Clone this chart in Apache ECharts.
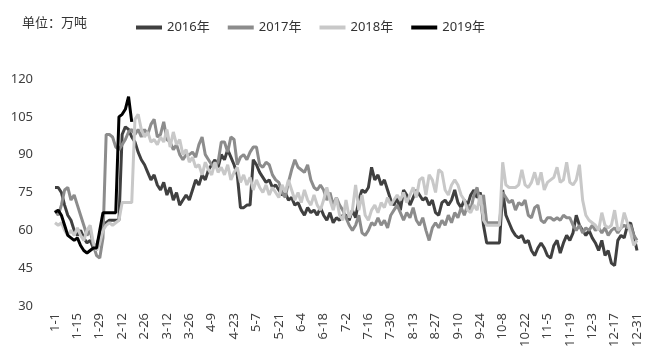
<!DOCTYPE html>
<html>
<head>
<meta charset="utf-8">
<script src="https://cdn.jsdelivr.net/npm/echarts@6/dist/echarts.min.js"></script>
<style>html,body{margin:0;padding:0;background:#fff;}#chart{width:651px;height:361px;}</style>
</head>
<body>
<div id="chart"></div>
<script>
// Category labels: every 2nd day of the year (M-D), ticks shown every 14 days
const monthDays = [31,28,31,30,31,30,31,31,30,31,30,31];
const categories = [];
(function(){ let m = 0, d = 1; for (let i = 0; i < 365; i++) { if (i % 2 === 0) categories.push((m+1) + '-' + d); d++; if (d > monthDays[m]) { d = 1; m++; } } })();

const seriesNames = ['2016年','2017年','2018年','2019年'];
const yTicks = [30,45,60,75,90,105,120];

const y2016 = [
  77,77,75,70,66,64,60,
  58,60,57,55,56,53,54,
  58,62,63,64,64,64,64,
  98,101,100,97,95,91,88,
  86,83,80,82,78,76,79,
  74,77,72,75,70,72,74,
  72,76,80,78,82,80,84,
  86,88,85,90,88,92,89,
  86,82,69,69,70,70,88,
  86,83,81,79,80,77,78,
  76,74,75,72,73,70,71,
  68,66,69,67,68,66,69,
  66,64,67,63,65,64,66,
  66,64,68,65,72,76,75,
  77,85,80,82,78,80,76,
  72,70,73,68,76,74,70,
  73,76,74,72,73,70,72,
  67,66,71,72,70,72,76,
  71,69,72,70,74,76,73,
  75,62,55,55,55,55,55,
  76,66,63,60,58,57,58,
  55,56,52,50,53,55,53,
  50,49,54,56,51,55,58,
  56,59,66,62,60,58,60,
  57,55,52,56,50,52,47,
  46,56,58,57,62,63,58,
  52
];
const y2017 = [
  68,66,70,76,77,72,74,
  70,66,62,58,60,54,50,
  49,57,98,98,97,93,92,
  94,96,99,100,98,100,97,
  100,98,102,104,97,98,103,
  96,95,92,94,90,88,90,
  90,91,89,94,97,90,88,
  86,85,87,95,95,91,97,
  96,86,89,90,88,91,93,
  93,86,85,87,86,82,80,
  79,75,73,79,84,88,85,
  84,83,86,80,77,76,78,
  76,72,75,70,73,70,68,
  65,62,60,62,66,59,58,
  60,63,62,65,62,64,61,
  66,68,70,67,64,67,65,
  69,64,62,65,60,56,61,
  63,61,64,62,66,63,67,
  65,69,66,70,68,74,77,
  70,74,63,63,63,63,63,
  75,73,71,72,68,71,70,
  72,66,65,69,70,64,63,
  65,65,64,65,64,66,65,
  65,62,60,62,59,61,60,
  62,60,61,59,61,58,60,
  61,59,61,62,61,62,58,
  56
];
const y2018 = [
  63,62,63,60,58,60,58,
  61,58,56,60,62,55,52,
  55,60,62,63,62,63,64,
  71,71,71,71,104,106,100,
  97,99,95,96,94,97,95,
  100,93,99,94,96,90,92,
  87,89,85,86,82,87,84,
  82,87,83,85,82,86,80,
  83,85,79,82,78,81,76,
  80,77,75,78,74,77,75,
  73,78,75,80,76,72,75,
  71,76,72,70,74,70,68,
  72,77,72,68,73,66,64,
  72,65,68,78,68,74,66,
  64,68,70,67,71,69,73,
  70,72,74,72,75,71,74,
  77,73,80,81,74,82,80,
  75,84,83,76,74,78,80,
  78,74,72,68,67,70,68,
  74,64,62,62,62,62,62,
  87,78,77,77,77,78,84,
  78,77,79,83,78,83,76,
  79,80,81,85,79,80,87,
  79,78,80,86,72,66,64,
  63,62,60,67,62,61,62,
  68,60,61,67,63,59,54,
  56
];
const y2019 = [
  67,68,66,62,58,57,56,
  57,54,52,51,52,53,53,
  60,67,67,67,67,67,105,
  106,108,113,103
];

const colors = ['#404040','#8c8c8c','#c8c8c8','#000000'];
const fontFam = '"Noto Sans","Noto Sans CJK SC",sans-serif';
const chart = echarts.init(document.getElementById('chart'), null, {renderer:'canvas'});
const dataList = [y2016, y2017, y2018, y2019];

chart.setOption({
  animation: false,
  backgroundColor: '#ffffff',
  title: {
    text: '单位：万吨', left: 17, top: 12,
    textStyle: { fontSize: 13, fontWeight: 'normal', color: '#333333', fontFamily: fontFam }
  },
  legend: {
    data: seriesNames, left: 131, top: 16, icon: 'rect',
    itemWidth: 26, itemHeight: 4, itemGap: 18,
    textStyle: { fontSize: 13, color: '#333333', fontFamily: fontFam }
  },
  grid: { left: 55, right: 14, top: 79, bottom: 55, containLabel: false },
  xAxis: {
    type: 'category', data: categories, boundaryGap: false,
    axisLine: { show: false }, axisTick: { show: false }, splitLine: { show: false },
    axisLabel: { interval: 6, rotate: 90, margin: 7, color: '#404040', fontSize: 13, fontFamily: fontFam }
  },
  yAxis: {
    type: 'value', min: yTicks[0], max: yTicks[yTicks.length-1], interval: 15,
    axisLine: { show: false }, axisTick: { show: false }, splitLine: { show: false },
    axisLabel: { margin: 22, color: '#404040', fontSize: 13, fontFamily: fontFam }
  },
  series: seriesNames.map((n, i) => ({
    name: n, type: 'line', data: dataList[i], symbol: 'none', showSymbol: false,
    lineStyle: { width: 3, color: colors[i] }, itemStyle: { color: colors[i] }
  }))
});
</script>
</body>
</html>
